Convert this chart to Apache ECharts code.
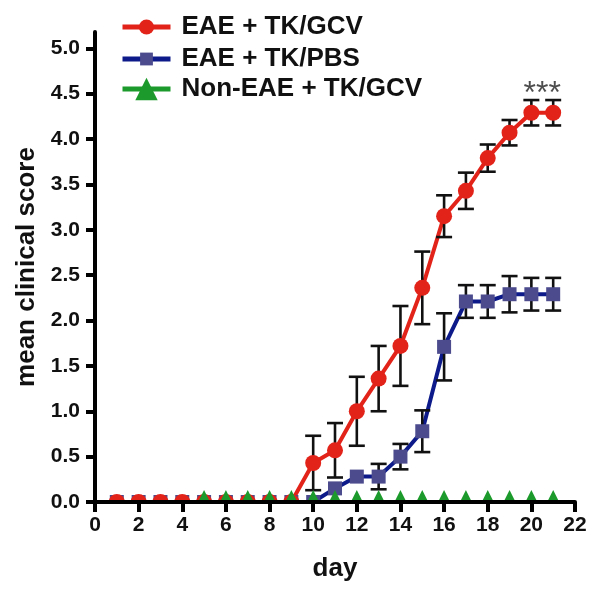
<!DOCTYPE html>
<html><head><meta charset="utf-8">
<script src="https://cdn.jsdelivr.net/npm/echarts@6/dist/echarts.min.js"></script>
<style>html,body{margin:0;padding:0;background:#fff}#c{width:604px;height:597px}</style>
</head><body><div id="c"></div>
<script>
// ---- data ----
const days = [1,2,3,4,5,6,7,8,9,10,11,12,13,14,15,16,17,18,19,20,21];
const redName = 'EAE + TK/GCV';
const redMean = [0,0,0,0,0,0,0,0,0,0.43,0.57,1.00,1.36,1.72,2.36,3.15,3.43,3.79,4.07,4.29,4.29];
const redErr  = [0,0,0,0,0,0,0,0,0,0.30,0.30,0.38,0.36,0.44,0.40,0.23,0.20,0.15,0.14,0.14,0.14];
const blueName = 'EAE + TK/PBS';
const blueMean = [0,0,0,0,0,0,0,0,0,0,0.15,0.28,0.28,0.50,0.78,1.71,2.21,2.21,2.29,2.29,2.29];
const blueErr  = [0,0,0,0,0,0,0,0,0,0,0,0,0.14,0.14,0.23,0.37,0.18,0.18,0.20,0.18,0.18];
const greenName = 'Non-EAE + TK/GCV';
const greenDays = [5,6,7,8,9,10,11,12,13,14,15,16,17,18,19,20,21];
const greenMean = [0,0,0,0,0,0,0,0,0,0,0,0,0,0,0,0,0];
const yTicks = [0,0.5,1.0,1.5,2.0,2.5,3.0,3.5,4.0,4.5,5.0];
const xTicks = [0,2,4,6,8,10,12,14,16,18,20,22];
const sigLabel = '***';
const sigPos = [20.5, 4.5];

// ---- styles ----
const FONT = 'Liberation Sans, Arial, Helvetica, sans-serif';
const RED = '#e2231a', BLUE_LINE = '#0d1b8a', BLUE_MK = '#4b4b8e', GREEN = '#1c9a2b';

const pairs = (xs, ys) => xs.map((x, i) => [x, ys[i]]);
const triples = (xs, ys, es) => xs.map((x, i) => [x, ys[i], es[i]]);

function lineSeries(name, data, color, symbol) {
  return { type: 'line', name, data, symbol, showSymbol: false, clip: true, z: 2,
    lineStyle: { color, width: 4 }, itemStyle: { color }, silent: true };
}
function lineSeriesC(name, data, lcolor, mcolor, symbol) {
  const s = lineSeries(name, data, lcolor, symbol);
  s.itemStyle = { color: mcolor };
  return s;
}
function errSeries(data) {
  return { type: 'custom', name: 'err', data, z: 3, silent: true, clip: false,
    renderItem(params, api) {
      const e = api.value(2);
      if (!e) return { type: 'group', children: [] };
      const x = api.value(0), m = api.value(1);
      const hi = api.coord([x, m + e]), lo = api.coord([x, m - e]);
      const w = 8, st = { stroke: '#111', lineWidth: 2.6 };
      return { type: 'group', children: [
        { type: 'line', shape: { x1: hi[0], y1: hi[1], x2: lo[0], y2: lo[1] }, style: st },
        { type: 'line', shape: { x1: hi[0]-w, y1: hi[1], x2: hi[0]+w, y2: hi[1] }, style: st },
        { type: 'line', shape: { x1: lo[0]-w, y1: lo[1], x2: lo[0]+w, y2: lo[1] }, style: st }
      ]};
    }, encode: { x: 0, y: 1 } };
}
function markerSeries(data, kind, color, z) {
  return { type: 'custom', name: 'mk' + kind, data, z, silent: true, clip: true,
    renderItem(params, api) {
      const p = api.coord([api.value(0), api.value(1)]);
      if (kind === 'circle') return { type: 'circle', shape: { cx: p[0], cy: p[1], r: 8 }, style: { fill: color } };
      if (kind === 'rect') return { type: 'rect', shape: { x: p[0]-7, y: p[1]-7, width: 14, height: 14 }, style: { fill: color } };
      const s = 24;
      return { type: 'polygon', shape: { points: [[p[0], p[1]-s/2], [p[0]+s/2, p[1]+s/2], [p[0]-s/2, p[1]+s/2]] }, style: { fill: color } };
    }, encode: { x: 0, y: 1 } };
}
function legend(name, top, ih) {
  return { data: [name], left: 120, top, orient: 'vertical', padding: 0, selectedMode: false,
    itemWidth: 48, itemHeight: ih, lineStyle: { width: 5 },
    textStyle: { fontFamily: FONT, fontWeight: 'bold', fontSize: 26, color: '#111', padding: [0,0,0,6] } };
}

const chart = echarts.init(document.getElementById('c'), null, { renderer: 'canvas' });
chart.setOption({
  animation: false,
  backgroundColor: '#fff',
  legend: [ legend(redName, 14, 19), legend(blueName, 46, 16), legend(greenName, 76, 28) ],
  grid: { left: 95, right: 29, top: 32, bottom: 95, containLabel: false },
  xAxis: { type: 'value', min: 0, max: 22, interval: 2, z: 10,
    name: 'day', nameLocation: 'middle', nameGap: 54,
    nameTextStyle: { fontFamily: FONT, fontWeight: 'bold', fontSize: 26, color: '#111' },
    axisLine: { lineStyle: { color: '#000', width: 4 } },
    axisTick: { length: 10, lineStyle: { width: 4, color: '#000' }, customValues: xTicks },
    axisLabel: { fontFamily: FONT, fontWeight: 'bold', fontSize: 21, color: '#111', margin: 13, customValues: xTicks },
    splitLine: { show: false } },
  yAxis: { type: 'value', min: 0, max: 5.18, z: 10,
    name: 'mean clinical score', nameLocation: 'middle', nameGap: 53,
    nameTextStyle: { fontFamily: FONT, fontWeight: 'bold', fontSize: 26, color: '#111' },
    axisLine: { show: true, lineStyle: { color: '#000', width: 4 } },
    axisTick: { show: true, length: 9, lineStyle: { width: 4, color: '#000' }, customValues: yTicks },
    axisLabel: { fontFamily: FONT, fontWeight: 'bold', fontSize: 21, color: '#111', margin: 15,
      customValues: yTicks, formatter: v => v.toFixed(1) },
    splitLine: { show: false } },
  series: [
    lineSeriesC(blueName, pairs(days, blueMean), BLUE_LINE, BLUE_MK, 'rect'),
    lineSeries(redName, pairs(days, redMean), RED, 'circle'),
    lineSeries(greenName, pairs(greenDays, greenMean), GREEN, 'triangle'),
    errSeries(triples(days, blueMean, blueErr)),
    errSeries(triples(days, redMean, redErr)),
    markerSeries(pairs(days, blueMean), 'rect', BLUE_MK, 4),
    markerSeries(pairs(days, redMean), 'circle', RED, 5),
    markerSeries(pairs(greenDays, greenMean), 'triangle', GREEN, 6),
    { type: 'scatter', name: 'sig', data: [sigPos], symbolSize: 1, itemStyle: { color: 'rgba(0,0,0,0)' }, silent: true, z: 7,
      label: { show: true, position: 'inside', formatter: sigLabel, fontFamily: FONT, fontSize: 32, color: '#222' } }
  ]
});
</script></body></html>
